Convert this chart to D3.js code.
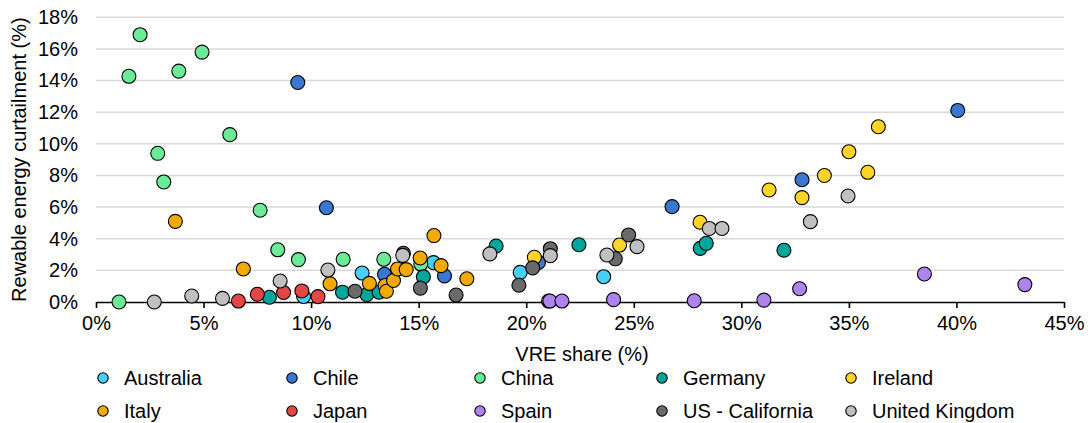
<!DOCTYPE html>
<html>
<head>
<meta charset="utf-8">
<script src="https://cdn.jsdelivr.net/npm/d3@7"></script>
<style>
  html, body { margin: 0; padding: 0; background: #fff; }
  svg { display: block; font-family: "Liberation Sans", Arial, sans-serif; }
</style>
</head>
<body>
<svg id="chart" width="1088" height="423"></svg>
<script>
// ---- Data (VRE share %, curtailment %) ----
const countries = ["Australia", "Chile", "China", "Germany", "Ireland", "Italy", "Japan", "Spain", "US - California", "United Kingdom"];
const colors = ["#47CFFB", "#3A77D2", "#6BEB97", "#00A69B", "#FFD426", "#F2A900", "#E34646", "#AE84EC", "#6A6A6A", "#C0C0C0"];

const australia = [[9.65,0.35],[12.37,1.83],[15.69,2.49],[19.72,1.87],[23.6,1.6]];
const chile = [[9.38,13.88],[10.71,5.96],[13.41,1.75],[16.2,1.65],[20.57,2.5],[26.78,6.03],[32.82,7.73],[40.06,12.11]];
const china = [[1.07,0.0],[1.53,14.27],[2.05,16.9],[2.87,9.4],[3.15,7.59],[3.85,14.6],[4.93,15.8],[6.22,10.58],[7.63,5.8],[8.45,3.3],[9.41,2.68],[11.49,2.7],[13.38,2.7],[15.1,2.4]];
const germany = [[8.06,0.3],[11.46,0.62],[12.59,0.47],[13.16,0.62],[15.22,1.59],[18.6,3.54],[22.45,3.62],[28.09,3.39],[28.37,3.71],[31.98,3.27]];
const ireland = [[20.38,2.83],[24.34,3.6],[28.08,5.04],[31.29,7.08],[32.82,6.6],[33.86,8.0],[35.0,9.5],[35.88,8.2],[36.37,11.08]];
const italy = [[3.69,5.1],[6.85,2.09],[10.88,1.15],[12.71,1.18],[13.44,1.04],[13.5,0.68],[13.83,1.36],[14.02,2.09],[14.42,2.05],[15.07,2.78],[15.71,4.2],[16.04,2.3],[17.24,1.47]];
const japan = [[6.62,0.06],[7.5,0.49],[8.72,0.6],[9.57,0.7],[10.32,0.34]];
const spain = [[21.04,0.06],[21.1,0.06],[21.66,0.06],[24.06,0.15],[27.81,0.08],[31.05,0.12],[32.71,0.84],[38.51,1.77],[43.18,1.1]];
const usCalifornia = [[12.04,0.68],[14.29,3.08],[15.08,0.88],[16.74,0.44],[19.66,1.06],[20.3,2.16],[21.12,3.37],[24.14,2.73],[24.76,4.24]];
const unitedKingdom = [[2.71,0.0],[4.45,0.38],[5.88,0.23],[8.56,1.33],[10.78,2.02],[14.26,2.95],[18.31,3.04],[21.12,2.93],[23.75,2.97],[25.15,3.5],[28.51,4.65],[29.1,4.65],[33.21,5.08],[34.96,6.7]];

const seriesValues = [australia, chile, china, germany, ireland, italy, japan, spain, usCalifornia, unitedKingdom];

const xTicks = [0, 5, 10, 15, 20, 25, 30, 35, 40, 45];
const yTicks = [0, 2, 4, 6, 8, 10, 12, 14, 16, 18];
const xTitle = "VRE share (%)";
const yTitle = "Rewable energy curtailment (%)";

// ---- Layout ----
const svg = d3.select("#chart");
const mLeft = 96, mRight = 1064, mTop = 17.3, mBottom = 302;
const x = d3.scaleLinear().domain([0, 45]).range([mLeft, mRight]);
const y = d3.scaleLinear().domain([0, 18]).range([mBottom, mTop]);
const fontSize = 20;

// gridlines
svg.append("g").selectAll("line")
  .data(yTicks.filter(d => d > 0))
  .join("line")
  .attr("x1", mLeft).attr("x2", mRight)
  .attr("y1", d => y(d)).attr("y2", d => y(d))
  .attr("stroke", "#d9d9d9").attr("stroke-width", 1.5);

// y tick labels
const yAxis = d3.axisLeft(y).tickValues(yTicks).tickFormat(d => d + "%").tickSize(0).tickPadding(18);
const gy = svg.append("g").attr("transform", `translate(${mLeft},0)`).call(yAxis);
gy.select(".domain").remove();
gy.selectAll("text").attr("font-size", fontSize).attr("font-family", "Liberation Sans, Arial, sans-serif").attr("fill", "#000");

// x axis
const xAxis = d3.axisBottom(x).tickValues(xTicks).tickFormat(d => d + "%").tickSize(6).tickPadding(8).tickSizeOuter(0);
const gx = svg.append("g").attr("transform", `translate(0,${mBottom})`).call(xAxis);
gx.select(".domain").attr("stroke", "#000").attr("stroke-width", 1.6);
gx.selectAll(".tick line").attr("stroke", "#000").attr("stroke-width", 1.6);
gx.selectAll("text").attr("font-size", fontSize).attr("font-family", "Liberation Sans, Arial, sans-serif").attr("fill", "#000");

// axis titles
svg.append("text")
  .attr("x", (mLeft + mRight) / 2 + 2).attr("y", 361)
  .attr("text-anchor", "middle").attr("font-size", fontSize)
  .text(xTitle);
svg.append("text")
  .attr("transform", `translate(26,${(mTop + mBottom) / 2}) rotate(-90)`)
  .attr("text-anchor", "middle").attr("font-size", fontSize)
  .text(yTitle);

// points
const pts = svg.append("g");
seriesValues.forEach((vals, i) => {
  pts.append("g").selectAll("circle")
    .data(vals)
    .join("circle")
    .attr("cx", d => x(d[0]))
    .attr("cy", d => y(d[1]))
    .attr("r", 7)
    .attr("fill", colors[i])
    .attr("stroke", "#000")
    .attr("stroke-width", 1.1);
});

// legend
const legX = [103, 292, 480, 662, 851];
const legY = [378, 411];
const leg = svg.append("g");
countries.forEach((c, i) => {
  const cx = legX[i % 5], cy = legY[Math.floor(i / 5)];
  leg.append("circle").attr("cx", cx).attr("cy", cy).attr("r", 5.2)
    .attr("fill", colors[i]).attr("stroke", "#000").attr("stroke-width", 1.1);
  leg.append("text").attr("x", cx + 21).attr("y", cy).attr("dy", "0.35em")
    .attr("font-size", fontSize).text(c);
});
</script>
</body>
</html>
